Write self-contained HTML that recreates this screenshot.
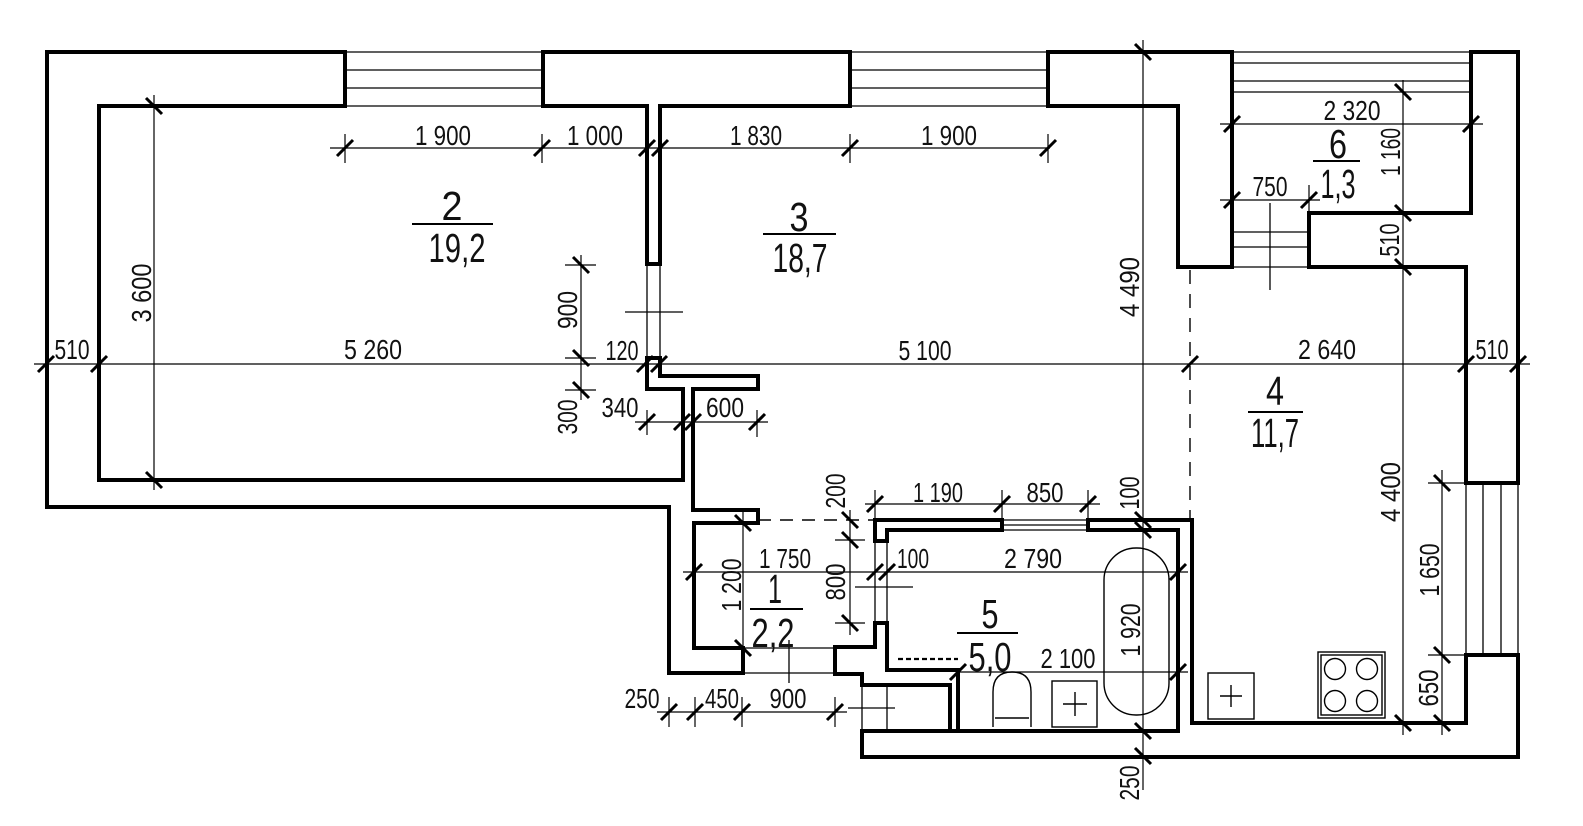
<!DOCTYPE html>
<html><head><meta charset="utf-8"><style>
html,body{margin:0;padding:0;background:#fff;}
svg{display:block;}
text{font-family:"Liberation Sans Narrow","Liberation Sans",sans-serif;fill:#111;}
.s{font-size:28px;}
.b{font-size:41px;}
</style></head><body>
<svg width="1583" height="826" viewBox="0 0 1583 826" xmlns="http://www.w3.org/2000/svg">
<rect width="1583" height="826" fill="#fff"/>
<!-- walls -->
<g fill="none" stroke="#000" stroke-width="4" stroke-linejoin="miter">
<polygon points="47,52 345,52 345,106 99,106 99,480 683,480 683,389 647,389 647,358 660,358 660,376 758,376 758,389 693,389 693,510 758,510 758,523 694,523 694,648 743,648 743,673 669,673 669,507 47,507"/>
<polygon points="543,52 850,52 850,106 660,106 660,264 647,264 647,106 543,106"/>
<polygon points="1048,52 1232,52 1232,267 1178,267 1178,106 1048,106"/>
<polygon points="1471,52 1518,52 1518,483 1466,483 1466,267 1309,267 1309,213 1471,213"/>
<polygon points="875,520 1002,520 1002,530 887,530 887,541 875,541"/>
<polyline points="862,731 950,731 950,685 862,685 862,674 835,674 835,647 875,647 875,623 887,623 887,670 958,670 958,731 1178,731 1178,530 1088,530 1088,520 1192,520 1192,723 1466,723 1466,655 1518,655 1518,757 862,757 862,729"/>
<line x1="948" y1="731" x2="960" y2="731"/>
</g>
<!-- thin lines: windows, doors, stairs -->
<g stroke="#000" stroke-width="1.3" fill="none">
<path d="M345,52H543M345,70H543M345,88H543M345,106H543"/>
<path d="M850,52H1048M850,70H1048M850,88H1048M850,106H1048"/>
<path d="M1232,52H1471M1232,63H1471M1232,81H1471M1232,92H1471"/>
<path d="M1466,483V655M1483,483V655M1501,483V655M1518,483V655"/>
<path d="M1002,520H1088M1002,525H1088M1002,530H1088"/>
<path d="M647,264V358M660,264V358M625,312H683"/>
<path d="M875,541V623M887,541V623M855,587H913"/>
<path d="M743,648H835M743,673H835M789,640V683"/>
<path d="M1232,232H1309M1232,247H1309M1232,267H1309M1270,203V290"/>
<path d="M862,685V731M887,685V731M848,708H895"/>
</g>
<!-- dashed -->
<g stroke="#000" fill="none">
<line x1="758" y1="520" x2="875" y2="520" stroke-width="1.4" stroke-dasharray="13 9"/>
<line x1="1190" y1="270" x2="1190" y2="518" stroke-width="1.4" stroke-dasharray="14 10"/>
<line x1="898" y1="659" x2="958" y2="659" stroke-width="2.2" stroke-dasharray="5 3"/>
</g>
<!-- fixtures -->
<g stroke="#000" stroke-width="1.4" fill="none">
<rect x="1104" y="548" width="65" height="167" rx="32" ry="32"/>
<path d="M993,727V692Q993,672 1012,672Q1031,672 1031,692V727M995,718H1029"/>
<rect x="1052" y="681" width="45" height="46"/>
<path d="M1063,704H1087M1075,692V716"/>
<rect x="1208" y="673" width="46" height="46"/>
<path d="M1220,696H1242M1231,685V707"/>
<rect x="1318" y="652" width="67" height="66"/>
<rect x="1321" y="655" width="61" height="60"/>
<circle cx="1335" cy="669" r="10.5"/>
<circle cx="1367" cy="669" r="10.5"/>
<circle cx="1335" cy="701" r="10.5"/>
<circle cx="1367" cy="701" r="10.5"/>
</g>
<!-- dimension lines -->
<g stroke="#000" stroke-width="1.2" fill="none">
<path d="M330,148H1050M345,134V163M542,134V163M850,134V163M1048,134V163"/>
<path d="M154,95V490"/>
<path d="M34,364H1530"/>
<path d="M581,255V400M565,265H596M565,358H596M565,390H596"/>
<path d="M635,422H768M647,410V435M757,410V437"/>
<path d="M1143,40V790"/>
<path d="M1220,124H1483"/>
<path d="M1220,200H1320M1309,185V213"/>
<path d="M1403,80V735"/>
<path d="M1442,470V735M1428,483H1466M1428,655H1466"/>
<path d="M865,504H1100M875,490V520M1002,490V520M1088,490V520"/>
<path d="M850,510V635M835,540H865M835,623H865"/>
<path d="M743,512V657"/>
<path d="M683,572H1188"/>
<path d="M958,672H1188"/>
<path d="M657,712H847M669,697V727M695,697V727M742,697V727M835,697V727"/>
</g>
<!-- ticks -->
<g stroke="#000" stroke-width="3">
<path d="M337,156L353,140M534,156L550,140M639,156L655,140M652,156L668,140M842,156L858,140M1040,156L1056,140"/>
<path d="M38,372L54,356M91,372L107,356M637,372L653,356M651,372L667,356M1182,372L1198,356M1458,372L1474,356M1510,372L1526,356"/>
<path d="M639,430L655,414M674,430L690,414M685,430L701,414M749,430L765,414"/>
<path d="M1224,132L1240,116M1463,132L1479,116"/>
<path d="M1224,208L1240,192M1301,208L1317,192"/>
<path d="M867,512L883,496M994,512L1010,496M1080,512L1096,496"/>
<path d="M686,580L702,564M867,580L883,564M879,580L895,564M1170,580L1186,564"/>
<path d="M950,680L966,664M1170,680L1186,664"/>
<path d="M661,720L677,704M687,720L703,704M734,720L750,704M827,720L843,704"/>
<path d="M146,98L162,114M146,472L162,488"/>
<path d="M573,257L589,273M573,350L589,366M573,382L589,398"/>
<path d="M1135,44L1151,60M1135,512L1151,528M1135,522L1151,538M1135,723L1151,739M1135,748L1151,764"/>
<path d="M1395,84L1411,100M1395,205L1411,221M1395,259L1411,275M1395,715L1411,731"/>
<path d="M1434,475L1450,491M1434,647L1450,663M1434,715L1450,731"/>
<path d="M842,512L858,528M842,532L858,548M842,615L858,631"/>
<path d="M735,515L751,531M735,640L751,656"/>
</g>
<!-- horizontal small dims -->
<g class="s" text-anchor="middle" lengthAdjust="spacingAndGlyphs">
<text x="443" y="145" textLength="56" lengthAdjust="spacingAndGlyphs">1 900</text>
<text x="595" y="145" textLength="56" lengthAdjust="spacingAndGlyphs">1 000</text>
<text x="756" y="145" textLength="52" lengthAdjust="spacingAndGlyphs">1 830</text>
<text x="949" y="145" textLength="56" lengthAdjust="spacingAndGlyphs">1 900</text>
<text x="72" y="359" textLength="35" lengthAdjust="spacingAndGlyphs">510</text>
<text x="373" y="359" textLength="58" lengthAdjust="spacingAndGlyphs">5 260</text>
<text x="622" y="360" textLength="33" lengthAdjust="spacingAndGlyphs">120</text>
<text x="925" y="360" textLength="53" lengthAdjust="spacingAndGlyphs">5 100</text>
<text x="1327" y="359" textLength="58" lengthAdjust="spacingAndGlyphs">2 640</text>
<text x="1492" y="359" textLength="33" lengthAdjust="spacingAndGlyphs">510</text>
<text x="620" y="417" textLength="37" lengthAdjust="spacingAndGlyphs">340</text>
<text x="725" y="417" textLength="38" lengthAdjust="spacingAndGlyphs">600</text>
<text x="1352" y="120" textLength="57" lengthAdjust="spacingAndGlyphs">2 320</text>
<text x="1270" y="196" textLength="35" lengthAdjust="spacingAndGlyphs">750</text>
<text x="938" y="502" textLength="50" lengthAdjust="spacingAndGlyphs">1 190</text>
<text x="1045" y="502" textLength="37" lengthAdjust="spacingAndGlyphs">850</text>
<text x="785" y="568" textLength="52" lengthAdjust="spacingAndGlyphs">1 750</text>
<text x="913" y="568" textLength="32" lengthAdjust="spacingAndGlyphs">100</text>
<text x="1033" y="568" textLength="58" lengthAdjust="spacingAndGlyphs">2 790</text>
<text x="1068" y="668" textLength="55" lengthAdjust="spacingAndGlyphs">2 100</text>
<text x="642" y="708" textLength="35" lengthAdjust="spacingAndGlyphs">250</text>
<text x="722" y="708" textLength="34" lengthAdjust="spacingAndGlyphs">450</text>
<text x="788" y="708" textLength="37" lengthAdjust="spacingAndGlyphs">900</text>
</g>
<!-- rotated small dims -->
<g class="s" text-anchor="middle">
<text x="141" y="303" transform="rotate(-90 141 293)" textLength="59" lengthAdjust="spacingAndGlyphs">3 600</text>
<text x="567" y="320" transform="rotate(-90 567 310)" textLength="38" lengthAdjust="spacingAndGlyphs">900</text>
<text x="567" y="427" transform="rotate(-90 567 417)" textLength="35" lengthAdjust="spacingAndGlyphs">300</text>
<text x="1129" y="297" transform="rotate(-90 1129 287)" textLength="60" lengthAdjust="spacingAndGlyphs">4 490</text>
<text x="1129" y="503" transform="rotate(-90 1129 493)" textLength="33" lengthAdjust="spacingAndGlyphs">100</text>
<text x="1130" y="640" transform="rotate(-90 1130 630)" textLength="53" lengthAdjust="spacingAndGlyphs">1 920</text>
<text x="1129" y="793" transform="rotate(-90 1129 783)" textLength="35" lengthAdjust="spacingAndGlyphs">250</text>
<text x="1390" y="162" transform="rotate(-90 1390 152)" textLength="48" lengthAdjust="spacingAndGlyphs">1 160</text>
<text x="1389" y="250" transform="rotate(-90 1389 240)" textLength="33" lengthAdjust="spacingAndGlyphs">510</text>
<text x="1390" y="502" transform="rotate(-90 1390 492)" textLength="60" lengthAdjust="spacingAndGlyphs">4 400</text>
<text x="1429" y="580" transform="rotate(-90 1429 570)" textLength="53" lengthAdjust="spacingAndGlyphs">1 650</text>
<text x="1428" y="698" transform="rotate(-90 1428 688)" textLength="37" lengthAdjust="spacingAndGlyphs">650</text>
<text x="731" y="595" transform="rotate(-90 731 585)" textLength="53" lengthAdjust="spacingAndGlyphs">1 200</text>
<text x="835" y="592" transform="rotate(-90 835 582)" textLength="37" lengthAdjust="spacingAndGlyphs">800</text>
<text x="835" y="501" transform="rotate(-90 835 491)" textLength="35" lengthAdjust="spacingAndGlyphs">200</text>
</g>
<!-- room labels -->
<g stroke="#000" stroke-width="2">
<path d="M412,224H493M763,234H836M1313,161H1360M1248,412H1303M750,609H803M957,633H1018"/>
</g>
<g class="b" text-anchor="middle">
<text x="452" y="220" textLength="21" lengthAdjust="spacingAndGlyphs">2</text>
<text x="457" y="262" textLength="57" lengthAdjust="spacingAndGlyphs">19,2</text>
<text x="799" y="231" textLength="19" lengthAdjust="spacingAndGlyphs">3</text>
<text x="800" y="272" textLength="55" lengthAdjust="spacingAndGlyphs">18,7</text>
<text x="1338" y="158" textLength="18" lengthAdjust="spacingAndGlyphs">6</text>
<text x="1338" y="198" textLength="35" lengthAdjust="spacingAndGlyphs">1,3</text>
<text x="1275" y="405" textLength="18" lengthAdjust="spacingAndGlyphs">4</text>
<text x="1275" y="447" textLength="48" lengthAdjust="spacingAndGlyphs">11,7</text>
<text x="775" y="603" textLength="14" lengthAdjust="spacingAndGlyphs">1</text>
<text x="773" y="647" textLength="43" lengthAdjust="spacingAndGlyphs">2,2</text>
<text x="990" y="628" textLength="17" lengthAdjust="spacingAndGlyphs">5</text>
<text x="990" y="671" textLength="43" lengthAdjust="spacingAndGlyphs">5,0</text>
</g>
</svg>
</body></html>
